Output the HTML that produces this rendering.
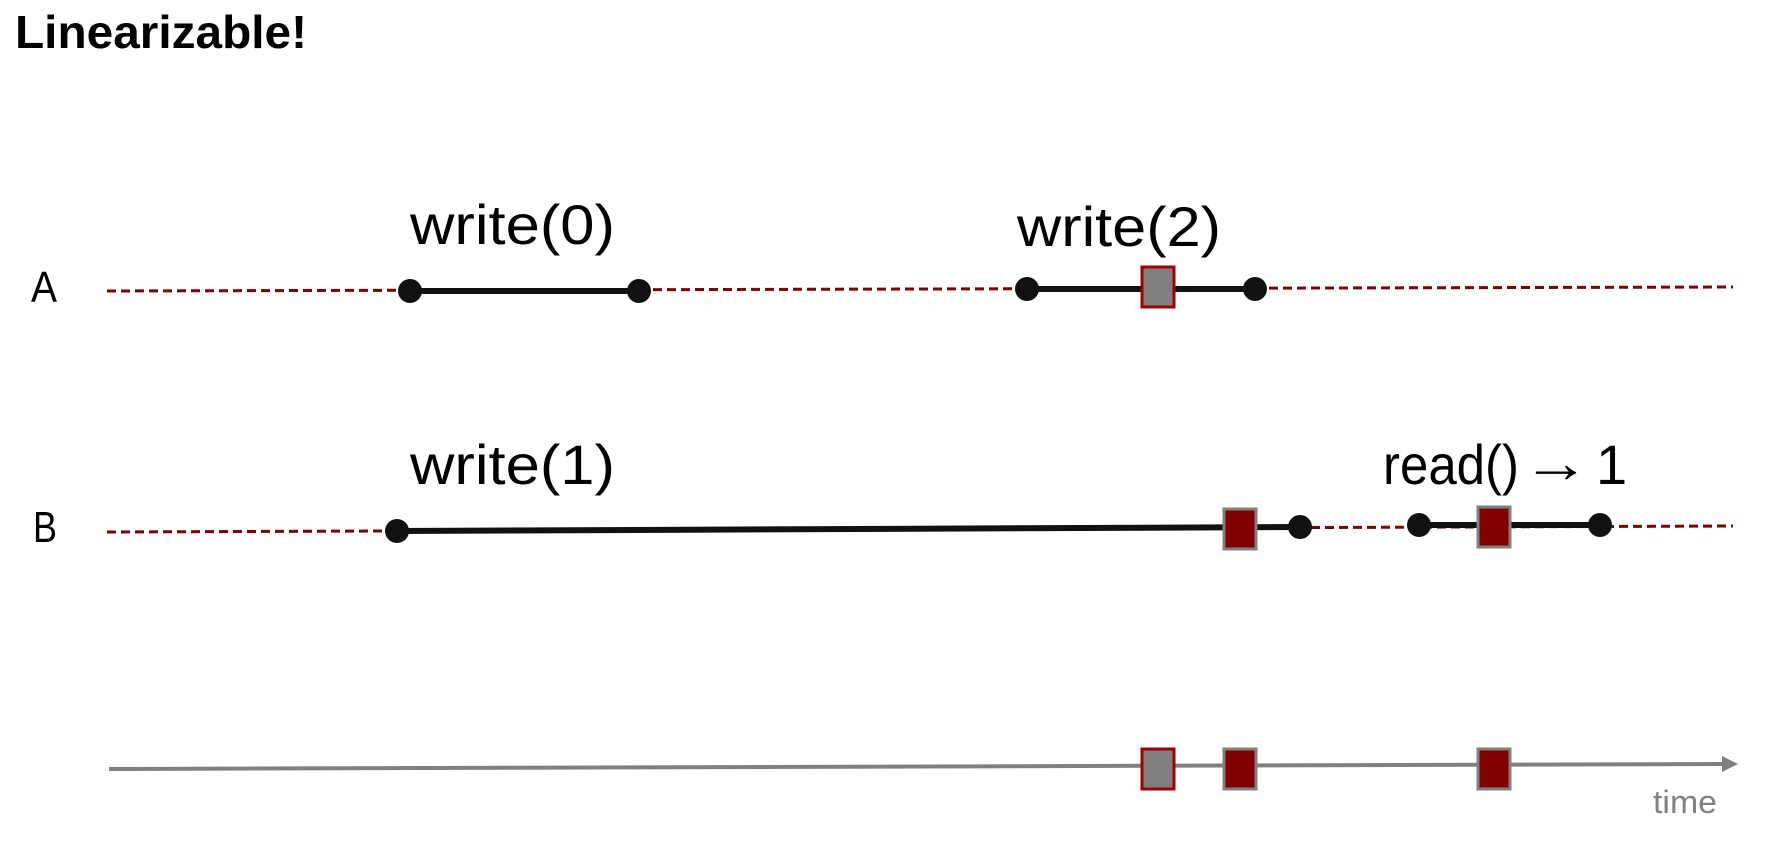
<!DOCTYPE html>
<html><head><meta charset="utf-8"><style>
html,body{margin:0;padding:0;background:#fff;width:1769px;height:852px;overflow:hidden}
svg{display:block}
</style></head><body>
<svg width="1769" height="852" viewBox="0 0 1769 852" xmlns="http://www.w3.org/2000/svg" font-family="'Liberation Sans', sans-serif">
<text x="15" y="48" font-size="46" font-weight="bold" fill="#000" textLength="292" lengthAdjust="spacingAndGlyphs">Linearizable!</text>
<text x="31" y="302" font-size="44" fill="#000" textLength="26" lengthAdjust="spacingAndGlyphs">A</text>
<text x="33" y="542" font-size="44" fill="#000" textLength="24" lengthAdjust="spacingAndGlyphs">B</text>
<!-- A line -->
<line x1="107" y1="291" x2="1733" y2="287" stroke="#7f0000" stroke-width="3" stroke-dasharray="9,5"/>
<line x1="410" y1="291" x2="639" y2="291" stroke="#111" stroke-width="6"/>
<circle cx="410" cy="291" r="12" fill="#111"/><circle cx="639" cy="291" r="12" fill="#111"/>
<text x="410" y="244" font-size="56" fill="#000" textLength="205" lengthAdjust="spacingAndGlyphs">write(0)</text>
<line x1="1027" y1="289" x2="1255" y2="289" stroke="#111" stroke-width="6"/>
<circle cx="1027" cy="289" r="12" fill="#111"/><circle cx="1255" cy="289" r="12" fill="#111"/>
<rect x="1142" y="267" width="32" height="40" fill="#808080" stroke="#a00000" stroke-width="3"/>
<text x="1017" y="246" font-size="56" fill="#000" textLength="204" lengthAdjust="spacingAndGlyphs">write(2)</text>
<!-- B line -->
<line x1="107" y1="532" x2="1733" y2="526" stroke="#7f0000" stroke-width="3" stroke-dasharray="9,5"/>
<line x1="397" y1="531" x2="1300" y2="527" stroke="#111" stroke-width="6"/>
<circle cx="397" cy="531" r="12" fill="#111"/><circle cx="1300" cy="527" r="12" fill="#111"/>
<rect x="1224" y="509" width="32" height="40" fill="#7f0000" stroke="#808080" stroke-width="3"/>
<text x="410" y="484" font-size="56" fill="#000" textLength="205" lengthAdjust="spacingAndGlyphs">write(1)</text>
<line x1="1419" y1="525" x2="1600" y2="525" stroke="#111" stroke-width="6"/>
<circle cx="1419" cy="525" r="12" fill="#111"/><circle cx="1600" cy="525" r="12" fill="#111"/>
<rect x="1478" y="507" width="32" height="40" fill="#7f0000" stroke="#808080" stroke-width="3"/>
<text x="1383" y="484" font-size="56" fill="#000" textLength="136" lengthAdjust="spacingAndGlyphs">read()</text>
<text x="1522" y="482" font-size="56" font-weight="bold" fill="#000" textLength="68" lengthAdjust="spacingAndGlyphs">→</text>
<text x="1596" y="484" font-size="56" fill="#000">1</text>
<!-- time axis -->
<line x1="109" y1="769" x2="1725" y2="764" stroke="#808080" stroke-width="4"/>
<polygon points="1738,764 1722,756 1722,772" fill="#808080"/>
<rect x="1142" y="749" width="32" height="40" fill="#808080" stroke="#a00000" stroke-width="3"/>
<rect x="1224" y="749" width="32" height="40" fill="#7f0000" stroke="#808080" stroke-width="3"/>
<rect x="1478" y="749" width="32" height="40" fill="#7f0000" stroke="#808080" stroke-width="3"/>
<text x="1653" y="813" font-size="32" fill="#808080" textLength="64" lengthAdjust="spacingAndGlyphs">time</text>
</svg>
</body></html>
